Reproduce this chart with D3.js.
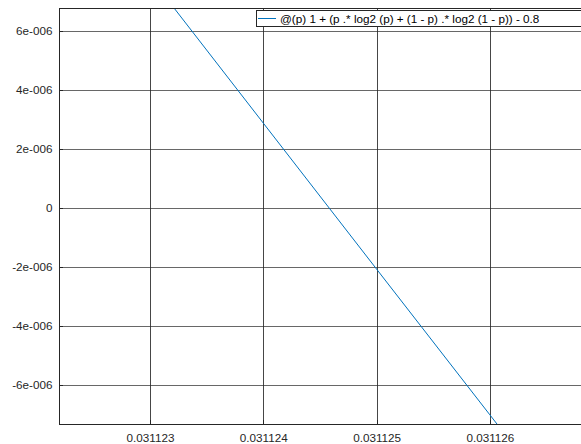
<!DOCTYPE html>
<html>
<head>
<meta charset="utf-8">
<script src="https://cdn.jsdelivr.net/npm/d3@7"></script>
<style>
  html, body { margin: 0; padding: 0; background: #fff; }
  svg { display: block; }
  text { font-family: "Liberation Sans", Arial, Helvetica, sans-serif; }
</style>
</head>
<body>
<svg id="chart" width="581" height="444"></svg>
<script>
// Sampled points of f(p) = 1 + (p.*log2(p) + (1-p).*log2(1-p)) - 0.8 near its root
const pValues = [0.031122, 0.031123, 0.031124, 0.031125, 0.031126, 0.031127];
const fValues = [12.78e-6, 7.83e-6, 2.88e-6, -2.07e-6, -7.01e-6, -11.96e-6];

// Axis ticks and their printed labels
const xTicks = [0.031123, 0.031124, 0.031125, 0.031126];
const xTickLabels = ["0.031123", "0.031124", "0.031125", "0.031126"];
const yTicks = [6e-6, 4e-6, 2e-6, 0, -2e-6, -4e-6, -6e-6];
const yTickLabels = ["6e-006", "4e-006", "2e-006", "0", "-2e-006", "-4e-006", "-6e-006"];

const xLimits = [0.031122197, 0.031127];
const yLimits = [-7.32e-6, 6.78e-6];
const legendLabel = "@(p) 1 + (p .* log2 (p) + (1 - p) .* log2 (1 - p)) - 0.8";

const svg = d3.select("#chart");
const plotLeft = 59, plotTop = 8, plotBottom = 424;
const pxPerUnitX = 113.3e6;
const plotRight = plotLeft + (xLimits[1] - xLimits[0]) * pxPerUnitX;

const x = d3.scaleLinear().domain(xLimits).range([plotLeft, plotRight]);
const y = d3.scaleLinear().domain(yLimits).range([plotBottom, plotTop]);

const axisColor = "#262626";
const fontSize = "11.7px";

// Grid lines
const gridX = svg.append("g")
  .attr("transform", `translate(0,${plotBottom})`)
  .call(d3.axisBottom(x).tickValues(xTicks).tickSizeInner(-(plotBottom - plotTop)).tickSizeOuter(0).tickFormat(""));
gridX.select(".domain").remove();
gridX.selectAll("line").attr("stroke", "#262626").attr("stroke-opacity", 0.85).attr("shape-rendering", "crispEdges");

const gridY = svg.append("g")
  .attr("transform", `translate(${plotLeft},0)`)
  .call(d3.axisLeft(y).tickValues(yTicks).tickSizeInner(-(plotRight - plotLeft)).tickSizeOuter(0).tickFormat(""));
gridY.select(".domain").remove();
gridY.selectAll("line").attr("stroke", "#262626").attr("stroke-opacity", 0.7).attr("shape-rendering", "crispEdges");

// Data line, clipped to the plot area
svg.append("clipPath").attr("id", "plotArea")
  .append("rect").attr("x", plotLeft).attr("y", plotTop)
  .attr("width", plotRight - plotLeft).attr("height", plotBottom - plotTop);

const line = d3.line().x((d, i) => x(pValues[i])).y(d => y(d));
svg.append("path")
  .datum(fValues)
  .attr("clip-path", "url(#plotArea)")
  .attr("fill", "none")
  .attr("stroke", "#0072BD")
  .attr("stroke-width", 1)
  .attr("d", line);

// Axes with tick labels
const xAxis = svg.append("g")
  .attr("transform", `translate(0,${plotBottom})`)
  .call(d3.axisBottom(x).tickValues(xTicks).tickSizeInner(-4).tickSizeOuter(0).tickPadding(10)
    .tickFormat((d, i) => xTickLabels[i]));
xAxis.select(".domain").attr("stroke", axisColor).attr("shape-rendering", "crispEdges");
xAxis.selectAll("line").attr("stroke", axisColor).attr("shape-rendering", "crispEdges");
xAxis.selectAll("text").attr("fill", axisColor).style("font-size", fontSize);

const yAxis = svg.append("g")
  .attr("transform", `translate(${plotLeft},0)`)
  .call(d3.axisLeft(y).tickValues(yTicks).tickSizeInner(-4).tickSizeOuter(0).tickPadding(6.5)
    .tickFormat((d, i) => yTickLabels[i]));
yAxis.select(".domain").attr("stroke", axisColor).attr("shape-rendering", "crispEdges");
yAxis.selectAll("line").attr("stroke", axisColor).attr("shape-rendering", "crispEdges");
yAxis.selectAll("text").attr("fill", axisColor).style("font-size", fontSize);

// Top border
svg.append("line")
  .attr("x1", plotLeft).attr("x2", plotRight).attr("y1", plotTop + 0.5).attr("y2", plotTop + 0.5)
  .attr("stroke", axisColor);

// Legend
const legend = svg.append("g").attr("transform", "translate(256,10)");
legend.append("rect")
  .attr("x", 0.5).attr("y", 0.5).attr("width", 400).attr("height", 16)
  .attr("fill", "#fff").attr("stroke", axisColor);
legend.append("line")
  .attr("x1", 2).attr("x2", 20).attr("y1", 8.5).attr("y2", 8.5)
  .attr("stroke", "#0072BD").attr("stroke-width", 1);
legend.append("text")
  .attr("x", 24).attr("y", 12.5)
  .attr("fill", "#000")
  .style("font-size", fontSize)
  .text(legendLabel);
</script>
</body>
</html>
